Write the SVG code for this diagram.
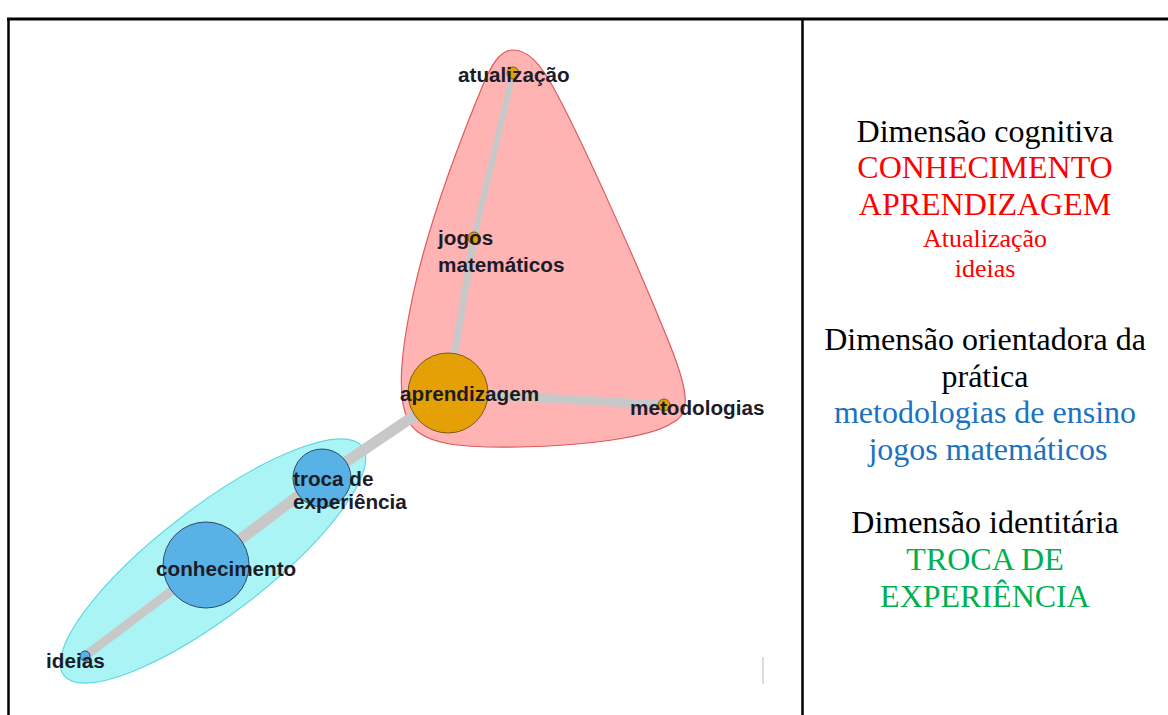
<svg xmlns="http://www.w3.org/2000/svg" width="1168" height="715" viewBox="0 0 1168 715">
  <style>
    .frame { stroke: #000; fill: none; }
    .edge { stroke: #c8c8c8; stroke-linecap: butt; fill: none; }
    .lbl { font-family: "Liberation Sans", Arial, sans-serif; font-size: 20.7px; font-weight: bold; fill: #1c1c28; }
    .gold { fill: #e4a004; stroke: #7a5a18; stroke-width: 1; }
    .blue { fill: #58b2e6; stroke: #2c4a66; stroke-width: 1; }
    .leg { font-family: "Liberation Serif", "Times New Roman", serif; font-size: 32px; text-anchor: middle; }
    .small { font-size: 26px; }
    .k { fill: #000; }
    .r { fill: #ff0000; }
    .b { fill: #1b72c2; }
    .g { fill: #00b050; }
  </style>

  <rect width="1168" height="715" fill="#fff"/>

  <!-- table frame -->
  <g id="frame">
    <line class="frame" x1="7" y1="19" x2="1168" y2="19" stroke-width="3"/>
    <line class="frame" x1="8.5" y1="18" x2="8.5" y2="715" stroke-width="2.5"/>
    <line class="frame" x1="802.5" y1="18" x2="802.5" y2="715" stroke-width="2.5"/>
    <line x1="763" y1="657" x2="763" y2="684" stroke="#d0d0d0" stroke-width="1.5"/>
  </g>

  <!-- cluster hulls -->
  <g id="hulls">
    <path d="M 513 50 C 528 50 540 64 552 85 C 580 135 640 270 670 345 C 690 395 690 415 672 423 C 650 438 580 446 520 447 C 460 448 420 445 408 420 C 398 400 400 360 410 310 C 425 230 460 140 485 80 C 495 58 503 50 513 50 Z" fill="#ffb3b3" stroke="#e05a5a" stroke-width="1.2"/>
    <ellipse cx="213" cy="561" rx="188" ry="54" transform="rotate(-37.5 213 561)" fill="#aaf4f6" stroke="#62d8e2" stroke-width="1.2"/>
  </g>

  <!-- connectors -->
  <g id="connectors">
    <line class="edge" x1="513" y1="73" x2="474" y2="237" stroke-width="6"/>
    <line class="edge" x1="474" y1="237" x2="448" y2="393" stroke-width="7"/>
    <line class="edge" x1="448" y1="393" x2="664" y2="405" stroke-width="9"/>
    <line class="edge" x1="448" y1="393" x2="322" y2="478" stroke-width="11"/>
    <line class="edge" x1="322" y1="478" x2="206" y2="565" stroke-width="11"/>
    <line class="edge" x1="206" y1="565" x2="85" y2="656" stroke-width="9"/>
  </g>

  <!-- nodes -->
  <g id="node-atualizacao">
    <circle class="gold" cx="513" cy="73" r="6"/>
    <text class="lbl" x="458" y="82">atualização</text>
  </g>
  <g id="node-jogos">
    <circle class="gold" cx="474" cy="238" r="6"/>
    <text class="lbl" x="438" y="245">jogos</text>
    <text class="lbl" x="438" y="272">matemáticos</text>
  </g>
  <g id="node-aprendizagem">
    <circle class="gold" cx="448" cy="393" r="40"/>
    <text class="lbl" x="400" y="401">aprendizagem</text>
  </g>
  <g id="node-metodologias">
    <circle class="gold" cx="664" cy="405" r="6"/>
    <text class="lbl" x="630" y="415">metodologias</text>
  </g>
  <g id="node-troca">
    <circle class="blue" cx="322" cy="478" r="29"/>
    <text class="lbl" x="293" y="486">troca de</text>
    <text class="lbl" x="293" y="509">experiência</text>
  </g>
  <g id="node-conhecimento">
    <circle class="blue" cx="206" cy="565" r="43"/>
    <text class="lbl" x="156" y="576">conhecimento</text>
  </g>
  <g id="node-ideias">
    <circle class="blue" cx="85" cy="656" r="5"/>
    <text class="lbl" x="46" y="668">ideias</text>
  </g>

  <!-- dimensions legend -->
  <g id="legend">
    <text class="leg k" x="985" y="142">Dimensão cognitiva</text>
    <text class="leg r" x="985" y="178">CONHECIMENTO</text>
    <text class="leg r" x="985" y="215">APRENDIZAGEM</text>
    <text class="leg small r" x="985" y="247">Atualização</text>
    <text class="leg small r" x="985" y="277">ideias</text>
    <text class="leg k" x="985" y="350">Dimensão orientadora da</text>
    <text class="leg k" x="985" y="387">prática</text>
    <text class="leg b" x="985" y="423">metodologias de ensino</text>
    <text class="leg b" x="988" y="460">jogos matemáticos</text>
    <text class="leg k" x="985" y="533">Dimensão identitária</text>
    <text class="leg g" x="985" y="570">TROCA DE</text>
    <text class="leg g" x="985" y="607">EXPERIÊNCIA</text>
  </g>
</svg>
